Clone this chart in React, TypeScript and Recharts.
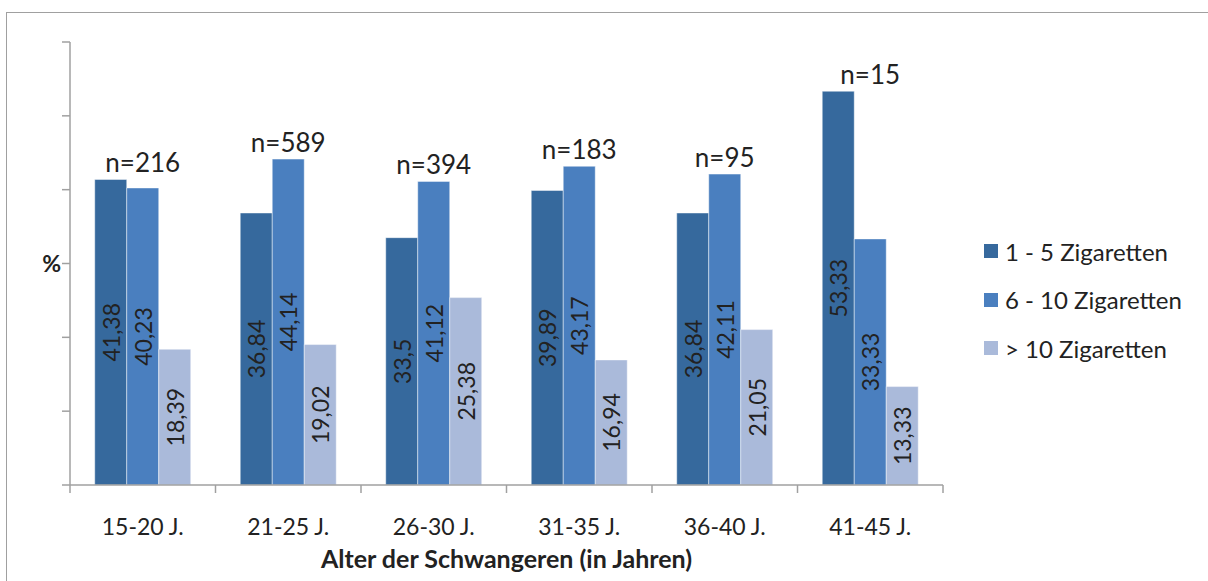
import { BarChart, Bar, XAxis, YAxis, LabelList, Legend } from "recharts";

const categories = ["15-20 J.", "21-25 J.", "26-30 J.", "31-35 J.", "36-40 J.", "41-45 J."];
const seriesNames = ["1 - 5 Zigaretten", "6 - 10 Zigaretten", "> 10 Zigaretten"];
const low = [41.38, 36.84, 33.5, 39.89, 36.84, 53.33];
const mid = [40.23, 44.14, 41.12, 43.17, 42.11, 33.33];
const high = [18.39, 19.02, 25.38, 16.94, 21.05, 13.33];
const sampleSizes = [216, 589, 394, 183, 95, 15];
const yTicks = [0, 10, 20, 30, 40, 50, 60];

const colors = ["#36699d", "#4a7fbf", "#aabada"];
const axisGray = "#a0a0a0";
const textColor = "#222";
const font = "Lato, 'Open Sans', sans-serif";

const data = categories.map((cat, i) => ({
  cat,
  a: low[i],
  b: mid[i],
  c: high[i],
  n: sampleSizes[i],
}));

// half of one category band (plot width 873 / 6 categories / 2)
const halfBand = 873 / 6 / 2;

const fmt = (v: number) => String(v).replace(".", ",");

const ValueLabel = (props: any) => {
  const { x, y, width, height, value } = props;
  const cx = Number(x) + Number(width) / 2;
  const cy = Number(y) + Number(height) / 2;
  return (
    <text
      x={cx}
      y={cy}
      transform={`rotate(-90 ${cx} ${cy})`}
      textAnchor="middle"
      dominantBaseline="central"
      fontSize={23}
      fontFamily={font}
      fill={textColor}
    >
      {fmt(Number(value))}
    </text>
  );
};

const GroupLabel = (props: any) => {
  const { x, y, width, height, value, index } = props;
  const base = Number(y) + Number(height);
  const scale = Number(height) / Number(value);
  const d = data[index];
  const top = base - Math.max(d.a, d.b, d.c) * scale;
  return (
    <text
      x={Number(x) + Number(width) / 2}
      y={top - 7}
      textAnchor="middle"
      fontSize={26}
      fontFamily={font}
      fill={textColor}
    >
      {`n=${d.n}`}
    </text>
  );
};

const CategoryTick = (props: any) => {
  const { x, y, payload, index } = props;
  return (
    <g>
      <line x1={x - halfBand} y1={y} x2={x - halfBand} y2={y + 8} stroke={axisGray} strokeWidth={1.5} />
      {index === categories.length - 1 && (
        <line x1={x + halfBand} y1={y} x2={x + halfBand} y2={y + 8} stroke={axisGray} strokeWidth={1.5} />
      )}
      <text x={x} y={y + 50} textAnchor="middle" fontSize={23} fontFamily={font} fill={textColor}>
        {payload.value}
      </text>
    </g>
  );
};

const LegendBox = () => (
  <div style={{ fontFamily: font, fontSize: 24, color: textColor }}>
    {seriesNames.map((name, i) => (
      <div key={name} style={{ display: "flex", alignItems: "center", height: 48.5 }}>
        <span style={{ width: 14, height: 14, background: colors[i], marginRight: 7, display: "inline-block" }} />
        <span>{name}</span>
      </div>
    ))}
  </div>
);

export default function App() {
  return (
    <div style={{ position: "absolute", left: 0, top: 0, width: 1208, height: 581, background: "#fff", overflow: "hidden" }}>
      <div
        style={{
          position: "absolute",
          left: 6,
          top: 12,
          width: 1300,
          height: 700,
          borderTop: `1.5px solid ${axisGray}`,
          borderLeft: `1.5px solid ${axisGray}`,
        }}
      />
      <BarChart
        width={1208}
        height={581}
        data={data}
        margin={{ top: 42, right: 265, bottom: 0, left: 10 }}
        barCategoryGap="17%"
        barGap={0}
      >
        <YAxis
          width={60}
          domain={[0, 60]}
          ticks={yTicks}
          interval={0}
          tick={() => <g />}
          tickSize={8}
          tickLine={{ stroke: axisGray, strokeWidth: 1.5 }}
          axisLine={{ stroke: axisGray, strokeWidth: 1.5 }}
          label={{
            value: "%",
            position: "insideRight",
            offset: 9,
            fontSize: 23,
            fontWeight: 700,
            fontFamily: font,
            fill: textColor,
          }}
        />
        <XAxis
          dataKey="cat"
          height={96}
          interval={0}
          tickSize={0}
          tickMargin={0}
          tickLine={false}
          axisLine={{ stroke: axisGray, strokeWidth: 1.5 }}
          tick={<CategoryTick />}
          label={{
            value: "Alter der Schwangeren (in Jahren)",
            position: "insideBottom",
            offset: 13,
            fontSize: 25,
            fontWeight: 700,
            fontFamily: font,
            fill: textColor,
          }}
        />
        <Legend
          layout="vertical"
          align="center"
          verticalAlign="middle"
          content={() => <LegendBox />}
          wrapperStyle={{ left: 984, top: 227, width: 220 }}
        />
        <Bar dataKey="a" name={seriesNames[0]} fill={colors[0]} stroke="rgba(255,255,255,0.45)" strokeWidth={1} isAnimationActive={false}>
          <LabelList dataKey="a" content={<ValueLabel />} />
        </Bar>
        <Bar dataKey="b" name={seriesNames[1]} fill={colors[1]} stroke="rgba(255,255,255,0.45)" strokeWidth={1} isAnimationActive={false}>
          <LabelList dataKey="b" content={<ValueLabel />} />
          <LabelList dataKey="b" content={<GroupLabel />} />
        </Bar>
        <Bar dataKey="c" name={seriesNames[2]} fill={colors[2]} stroke="rgba(255,255,255,0.45)" strokeWidth={1} isAnimationActive={false}>
          <LabelList dataKey="c" content={<ValueLabel />} />
        </Bar>
      </BarChart>
    </div>
  );
}
